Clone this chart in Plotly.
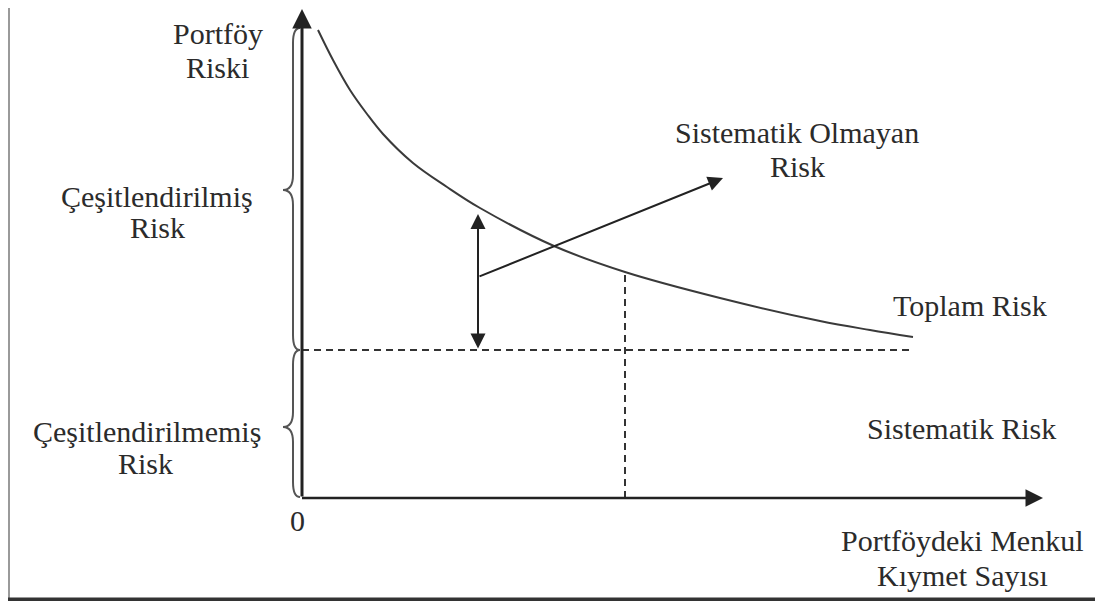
import plotly.graph_objects as go

# ---- data (diagram units: x = number of securities, y = portfolio risk) ----
securities = [1.6, 3.1, 4.8, 6.5, 8.1, 11.1, 14.5, 17.8, 25.2, 32.3, 41.8, 51.8, 56.8, 61.1]
total_risk = [46.8, 43.8, 40.8, 38.4, 36.4, 33.5, 31.1, 29.0, 25.2, 22.6, 20.0, 17.7, 16.8, 16.1]
systematic_level = 14.8
marker_x = 32.3          # vertical dashed reference
arrow_x = 17.6           # double arrow (unsystematic risk span)
arrow_top = 28.4
pointer_start = (17.6, 22.1)
pointer_end = (42.1, 32.0)
x_axis_end = 74.1
y_axis_end = 48.9
brace_top = 47.0

INK = "#2b2b2b"
FONT = "Liberation Serif"

# the page body has an 8px margin: the figure is sized to fill the rest of the window
W, H = 1095, 593

fig = go.Figure()

fig.add_trace(go.Scatter(x=securities, y=total_risk, mode="lines",
                         line=dict(color="#3a3a3a", width=2, shape="spline", smoothing=1.0),
                         hoverinfo="skip", showlegend=False))

fig.add_trace(go.Scatter(x=[0, securities[-1]], y=[systematic_level, systematic_level], mode="lines",
                         line=dict(color="#333", width=2, dash="7px,5px"),
                         hoverinfo="skip", showlegend=False))
curve_at_marker = total_risk[securities.index(marker_x)]
fig.add_trace(go.Scatter(x=[marker_x, marker_x], y=[0, curve_at_marker], mode="lines",
                         line=dict(color="#333", width=2, dash="7px,5px"),
                         hoverinfo="skip", showlegend=False))

shapes = []
# frame of the picture
shapes.append(dict(type="line", xref="paper", yref="paper", x0=1/W, x1=1/W, y0=0, y1=1,
                   line=dict(color="#9a9a9a", width=2)))
shapes.append(dict(type="line", xref="paper", yref="paper", x0=(W - 2)/W, x1=(W - 2)/W, y0=0, y1=1,
                   line=dict(color="#bdbdbd", width=2)))
shapes.append(dict(type="line", xref="paper", yref="paper", x0=0, x1=1, y0=1.5/H, y1=1.5/H,
                   line=dict(color="#333333", width=4)))


def brace(top, bottom, mid, x_end=-0.2, x_line=-0.9, x_tip=-1.9, r=1.5):
    return (f"M {x_end},{top} Q {x_line},{top} {x_line},{top - r} "
            f"L {x_line},{mid + r} Q {x_line},{mid} {x_tip},{mid} "
            f"Q {x_line},{mid} {x_line},{mid - r} "
            f"L {x_line},{bottom + r} Q {x_line},{bottom} {x_end},{bottom}")


upper_mid = 30.8
lower_mid = 7.1
shapes.append(dict(type="path", xref="x", yref="y",
                   path=brace(brace_top, systematic_level, upper_mid),
                   line=dict(color="#555", width=2)))
shapes.append(dict(type="path", xref="x", yref="y",
                   path=brace(systematic_level, 0.1, lower_mid),
                   line=dict(color="#555", width=2)))

annotations = []
annotations.append(dict(x=0, y=y_axis_end, ax=0, ay=0, xref="x", yref="y", axref="x", ayref="y",
                        text="", showarrow=True, arrowhead=2, arrowsize=1.3, arrowwidth=3, arrowcolor="#222"))
annotations.append(dict(x=x_axis_end, y=0, ax=-0.15, ay=0, xref="x", yref="y", axref="x", ayref="y",
                        text="", showarrow=True, arrowhead=2, arrowsize=1.4, arrowwidth=2.5, arrowcolor="#222"))
annotations.append(dict(x=arrow_x, y=arrow_top, ax=arrow_x, ay=systematic_level, xref="x", yref="y",
                        axref="x", ayref="y", text="", showarrow=True, arrowhead=2, startarrowhead=2,
                        arrowside="end+start", arrowsize=1.5, startarrowsize=1.5, arrowwidth=2, arrowcolor="#222"))
annotations.append(dict(x=pointer_end[0], y=pointer_end[1], ax=pointer_start[0], ay=pointer_start[1],
                        xref="x", yref="y", axref="x", ayref="y", text="", showarrow=True,
                        arrowhead=2, arrowsize=1.5, arrowwidth=2, arrowcolor="#222"))

labels = [
    ("Portföy", -8.4, 46.5),
    ("Riski", -8.5, 43.1),
    ("Çeşitlendirilmiş", -14.5, 30.2),
    ("Risk", -14.5, 27.1),
    ("Çeşitlendirilmemiş", -15.5, 6.7),
    ("Risk", -15.7, 3.5),
    ("Sistematik Olmayan", 49.5, 36.6),
    ("Risk", 49.5, 33.2),
    ("Toplam Risk", 66.8, 19.3),
    ("Sistematik Risk", 65.9, 7.0),
    ("0", -0.5, -2.2),
    ("Portföydeki Menkul", 66.0, -4.2),
    ("Kıymet Sayısı", 66.0, -7.7),
]
for txt, x, y in labels:
    annotations.append(dict(x=x, y=y, xref="x", yref="y", text=txt, showarrow=False, align="center",
                            font=dict(family=FONT, size=30, color=INK), xanchor="center", yanchor="middle"))

fig.update_layout(
    width=W, height=H,
    margin=dict(l=0, r=0, t=0, b=0),
    paper_bgcolor="white", plot_bgcolor="white",
    xaxis=dict(range=[-29.4, 80.1], visible=False, fixedrange=True),
    yaxis=dict(range=[-10.3, 49.0], visible=False, fixedrange=True),
    shapes=shapes, annotations=annotations, showlegend=False,
)

fig.write_html("out.html")
